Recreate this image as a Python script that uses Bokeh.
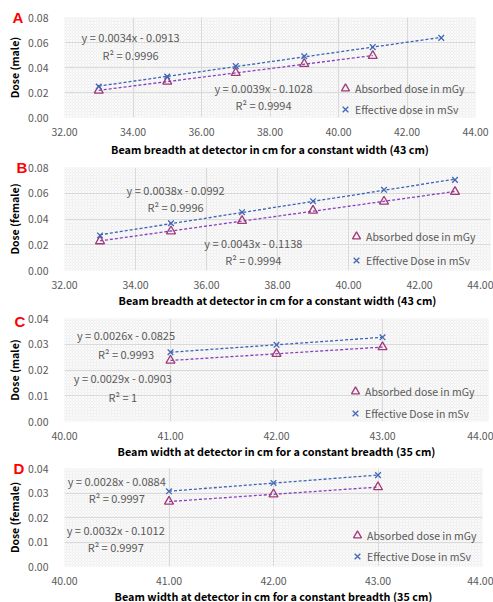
import numpy as np
from bokeh.plotting import figure
from bokeh.layouts import column
from bokeh.models import (Legend, LegendItem, Label, BoxAnnotation, FixedTicker,
                          NumeralTickFormatter, Range1d)
from bokeh.embed import file_html
from bokeh.resources import INLINE

# ---------------- data ----------------
a_x_abs = [33, 35, 37, 39, 41]
a_abs = [0.0216, 0.0288, 0.0357, 0.0429, 0.0493]
a_x_eff = [33, 35, 37, 39, 41, 43]
a_eff = [0.0248, 0.0328, 0.0411, 0.0490, 0.0563, 0.0637]

b_x = [33, 35, 37, 39, 41, 43]
b_abs = [0.0228, 0.0305, 0.0386, 0.0466, 0.0536, 0.0611]
b_eff = [0.0272, 0.0367, 0.0453, 0.0538, 0.0627, 0.0704]

c_x = [41, 42, 43]
c_abs = [0.0237, 0.0263, 0.0289]
c_eff = [0.0269, 0.0298, 0.0327]

d_x = [41, 42, 43]
d_abs = [0.0265, 0.0295, 0.0324]
d_eff = [0.0307, 0.0341, 0.0373]

ab_xticks = [32, 34, 36, 38, 40, 42, 44]
cd_xticks = [40, 41, 42, 43, 44]
ab_yticks = [0.00, 0.02, 0.04, 0.06, 0.08]
cd_yticks = [0.00, 0.01, 0.02, 0.03, 0.04]

letters = ["A", "B", "C", "D"]
ylabels = ["Dose (male)", "Dose (female)", "Dose (male)", "Dose (female)"]
xlabels = ["Beam breadth at detector in cm for a constant width (43 cm)",
           "Beam breadth at detector in cm for a constant width (43 cm)",
           "Beam width at detector in cm for a constant breadth (35 cm)",
           "Beam width at detector in cm for a constant breadth (35 cm)"]
abs_names = ["Absorbed dose in mGy"] * 4
eff_names = ["Effective dose in mSv", "Effective Dose in mSv",
             "Effective Dose in mSv", "Effective Dose in mSv"]
eq_texts = [
    ["y = 0.0034x - 0.0913", "R² = 0.9996", "y = 0.0039x - 0.1028", "R² = 0.9994"],
    ["y = 0.0038x - 0.0992", "R² = 0.9996", "y = 0.0043x - 0.1138", "R² = 0.9994"],
    ["y = 0.0026x - 0.0825", "R² = 0.9993", "y = 0.0029x - 0.0903", "R² = 1"],
    ["y = 0.0028x - 0.0884", "R² = 0.9997", "y = 0.0032x - 0.1012", "R² = 0.9997"],
]

# ---------------- layout / style ----------------
FONT = "Noto Sans CJK JP"
GRAY = "#595959"
ABS_MARK = "#A03A78"
ABS_LINE = "#8A3FC0"
EFF_MARK = "#4068B8"
EFF_LINE = "#3D63B5"
TOTAL_W = 493

# bl/bt: borders left/top; fw/fh: frame size; bb: bottom border
panels = [
    dict(xa=a_x_abs, ya=a_abs, xe=a_x_eff, ye=a_eff, xr=(32, 44), yr=(0, 0.08),
         xt=ab_xticks, yt=ab_yticks, bl=64, fw=411, bt=17, fh=100, bb=43, xls=2,
         eq_pos=[(33.93, 0.0648), (33.93, 0.0504), (37.81, 0.0240), (37.81, 0.0104)],
         letter_off=-52, letter_so=-16, leg=(271, -2), leg_sp=1),
    dict(xa=b_x, ya=b_abs, xe=b_x, ye=b_eff, xr=(32, 44), yr=(0, 0.08),
         xt=ab_xticks, yt=ab_yticks, bl=61, fw=426, bt=7, fh=103, bb=41, xls=0,
         eq_pos=[(35.13, 0.0629), (35.13, 0.0497), (37.32, 0.0217), (37.32, 0.0078)],
         letter_off=-48, letter_so=-16, leg=(282, 0), leg_sp=4),
    dict(xa=c_x, ya=c_abs, xe=c_x, ye=c_eff, xr=(40, 44), yr=(0, 0.04),
         xt=cd_xticks, yt=cd_yticks, bl=62, fw=424, bt=7, fh=103, bb=41, xls=0,
         eq_pos=[(40.58, 0.0334), (40.58, 0.0264), (40.55, 0.0167), (40.55, 0.0097)],
         letter_off=-50, letter_so=-22, leg=(281, -2), leg_sp=2),
    dict(xa=d_x, ya=d_abs, xe=d_x, ye=d_eff, xr=(40, 44), yr=(0, 0.04),
         xt=cd_xticks, yt=cd_yticks, bl=64, fw=418, bt=6, fh=98, bb=36, xls=0,
         eq_pos=[(40.50, 0.0347), (40.50, 0.0278), (40.49, 0.0151), (40.49, 0.0078)],
         letter_off=-51, letter_so=-16, leg=(283, 0), leg_sp=1),
]

figs = []
for i, cfg in enumerate(panels):
    br = TOTAL_W - cfg["bl"] - cfg["fw"]
    p = figure(frame_width=cfg["fw"], frame_height=cfg["fh"],
               output_backend="svg", toolbar_location=None,
               x_range=Range1d(*cfg["xr"]), y_range=Range1d(*cfg["yr"]),
               min_border_left=cfg["bl"], min_border_right=br,
               min_border_top=cfg["bt"], min_border_bottom=cfg["bb"])
    p.outline_line_color = None
    p.background_fill_color = "#f3f3f3"
    p.border_fill_color = "white"
    p.add_layout(BoxAnnotation(left=cfg["xr"][0], right=cfg["xr"][1],
                               bottom=cfg["yr"][0], top=cfg["yr"][1],
                               fill_color="#efefef", fill_alpha=1.0, line_color=None,
                               hatch_pattern="diagonal_cross", hatch_color="white",
                               hatch_alpha=0.9, hatch_scale=3, hatch_weight=0.8,
                               level="image"))

    # panel letter as a left-aligned title shifted into the left margin
    p.title.text = letters[i]
    p.title.align = "left"
    p.title.offset = cfg["letter_off"]
    p.title.standoff = cfg["letter_so"]
    p.title.text_color = "#ff0000"
    p.title.text_font = "Liberation Sans"
    p.title.text_font_style = "bold"
    p.title.text_font_size = "15px"

    p.xgrid.grid_line_color = "#d9d9d9"
    p.ygrid.grid_line_color = "#d9d9d9"
    p.xaxis.ticker = FixedTicker(ticks=cfg["xt"])
    p.yaxis.ticker = FixedTicker(ticks=cfg["yt"])
    p.xgrid.ticker = FixedTicker(ticks=cfg["xt"])
    p.ygrid.ticker = FixedTicker(ticks=cfg["yt"])
    p.xaxis.formatter = NumeralTickFormatter(format="0.00")
    p.yaxis.formatter = NumeralTickFormatter(format="0.00")
    for ax in (p.xaxis[0], p.yaxis[0]):
        ax.axis_line_color = None
        ax.major_tick_line_color = None
        ax.minor_tick_line_color = None
        ax.major_label_text_font = FONT
        ax.major_label_text_font_size = "10.5px"
        ax.major_label_text_color = GRAY
        ax.axis_label_text_font = FONT
        ax.axis_label_text_font_style = "bold"
        ax.axis_label_text_color = "black"
    p.xaxis.axis_label_text_font_size = "10.8px"
    p.yaxis.axis_label_text_font_size = "10.5px"
    p.xaxis.axis_label = xlabels[i]
    p.yaxis.axis_label = ylabels[i]
    p.xaxis.major_label_standoff = 4
    p.xaxis.axis_label_standoff = cfg["xls"]
    p.yaxis.major_label_standoff = 10
    p.yaxis.axis_label_standoff = 3

    # trendlines (least squares fit of the data)
    for xs, ys, col in ((cfg["xa"], cfg["ya"], ABS_LINE), (cfg["xe"], cfg["ye"], EFF_LINE)):
        k, b0 = np.polyfit(xs, ys, 1)
        xx = [min(xs), max(xs)]
        p.line(xx, [k * v + b0 for v in xx], line_color=col, line_width=1.3,
               line_dash="3 2")

    r_abs = p.scatter(cfg["xa"], cfg["ya"], marker="triangle", size=9,
                      fill_color=None, line_color=ABS_MARK, line_width=1.3)
    r_eff = p.scatter(cfg["xe"], cfg["ye"], marker="x", size=8,
                      line_color=EFF_MARK, line_width=1.3)

    for (ex, ey), t in zip(cfg["eq_pos"], eq_texts[i]):
        p.add_layout(Label(x=ex, y=ey, text=t, text_align="center",
                           text_baseline="middle", text_font=FONT,
                           text_font_size="11px", text_color=GRAY))

    leg = Legend(items=[LegendItem(label=abs_names[i], renderers=[r_abs]),
                        LegendItem(label=eff_names[i], renderers=[r_eff])],
                 location=cfg["leg"], orientation="vertical")
    leg.background_fill_alpha = 0
    leg.border_line_color = None
    leg.padding = 0
    leg.margin = 0
    leg.spacing = cfg["leg_sp"]
    leg.glyph_width = 20
    leg.glyph_height = 20
    leg.label_height = 20
    leg.label_standoff = 0
    leg.label_text_font = FONT
    leg.label_text_font_size = "10.5px"
    leg.label_text_color = GRAY
    p.add_layout(leg)
    figs.append(p)

layout = column(*figs, spacing=0)
open("out.html", "w").write(file_html(layout, INLINE))
